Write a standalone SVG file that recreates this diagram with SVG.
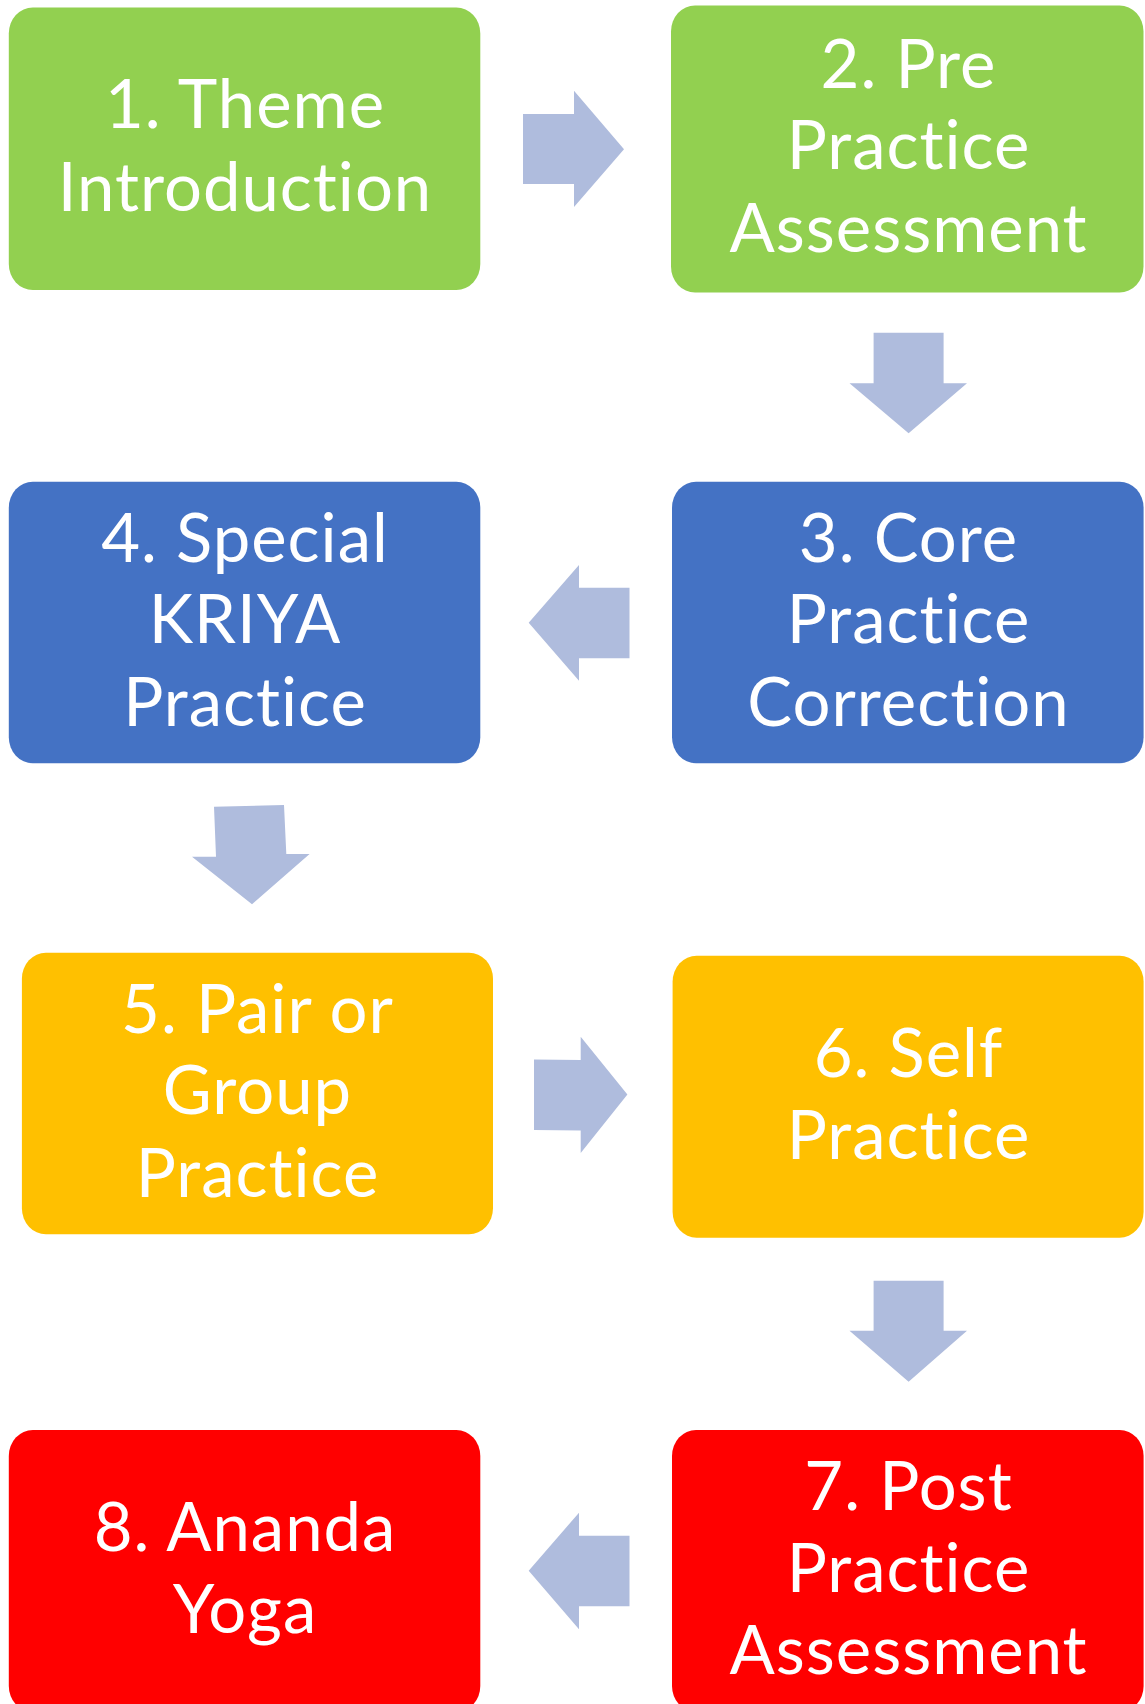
<svg xmlns="http://www.w3.org/2000/svg" width="1145" height="1704" viewBox="0 0 1145 1704">
<style>
.box{stroke:none}
.g{fill:#92D050}
.b{fill:#4472C4}
.y{fill:#FFC000}
.r{fill:#FF0000}
.t{font-family:Lato,"Open Sans","Liberation Sans",sans-serif;font-size:67px;letter-spacing:1px;font-variant-ligatures:none;font-feature-settings:"liga" 0;fill:#FFFFFF;text-anchor:middle}
.arr{fill:#AFBCDD}
</style>
<rect width="1145" height="1704" fill="#FFFFFF"/>
<g id="connectors">
<polygon class="arr" points="523,114 574,114 574,90.7 624,149.3 574,207 574,184 523,184"/>
<polygon class="arr" points="873.6,332.7 943.6,332.7 943.6,383.3 967,383.3 908.6,433.3 849.5,383.3 873.6,383.3"/>
<polygon class="arr" points="629.5,587.7 579,587.7 579,565 528.7,622.7 579,680.7 579,658.3 629.5,658.3"/>
<polygon class="arr" points="214,806.7 284,805 286.3,854 309.6,854 252,904.3 192,856.7 216,856.7"/>
<polygon class="arr" points="534,1059.5 580.7,1060 580.7,1036.7 627.4,1094.4 580.7,1153 580.7,1130.5 534,1130"/>
<polygon class="arr" points="873.6,1280.7 943.6,1280.7 943.6,1330.7 967,1330.7 908.6,1381.7 849.5,1330.7 873.6,1330.7"/>
<polygon class="arr" points="629.5,1535.7 579,1535.7 579,1512.7 528.7,1570.7 579,1629.3 579,1606.3 629.5,1606.3"/>
</g>
<g id="node1">
<rect class="box g" x="8.8" y="7.5" width="471.5" height="282.5" rx="24" ry="26"/>
<text class="t" x="245" y="128.3">1. Theme</text>
<text class="t" x="245" y="210.7">Introduction</text>
</g>
<g id="node2">
<rect class="box g" x="671" y="5.5" width="472.5" height="287" rx="24" ry="26" stroke="#A9D78A" stroke-width="1.5"/>
<text class="t" x="908.5" y="88.3">2. Pre</text>
<text class="t" x="908.5" y="169.3">Practice</text>
<text class="t" x="908.5" y="251.7">Assessment</text>
</g>
<g id="node3">
<rect class="box b" x="672" y="481.7" width="471.6" height="281.6" rx="24" ry="26"/>
<text class="t" x="908.5" y="561.7">3. Core</text>
<text class="t" x="908.5" y="643.3">Practice</text>
<text class="t" x="908.5" y="725.7">Correction</text>
</g>
<g id="node4">
<rect class="box b" x="8.8" y="481.7" width="471.5" height="281.6" rx="24" ry="26"/>
<text class="t" x="245" y="561.7">4. Special</text>
<text class="t" x="245" y="643.3">KRIYA</text>
<text class="t" x="245" y="725.7">Practice</text>
</g>
<g id="node5">
<rect class="box y" x="21.9" y="952.7" width="471.1" height="281.6" rx="24" ry="26"/>
<text class="t" x="257.5" y="1032.7">5. Pair or</text>
<text class="t" x="257.5" y="1114.3">Group</text>
<text class="t" x="257.5" y="1196.7">Practice</text>
</g>
<g id="node6">
<rect class="box y" x="672.6" y="955.7" width="471" height="282" rx="24" ry="26"/>
<text class="t" x="908.5" y="1076.7">6. Self</text>
<text class="t" x="908.5" y="1158.7">Practice</text>
</g>
<g id="node7">
<rect class="box r" x="672" y="1430" width="471.6" height="282" rx="24" ry="26"/>
<text class="t" x="908.5" y="1510">7. Post</text>
<text class="t" x="908.5" y="1592">Practice</text>
<text class="t" x="908.5" y="1674">Assessment</text>
</g>
<g id="node8">
<rect class="box r" x="8.8" y="1430" width="471.5" height="282" rx="24" ry="26"/>
<text class="t" x="245" y="1551">8. Ananda</text>
<text class="t" x="245" y="1632.7">Yoga</text>
</g>
</svg>
